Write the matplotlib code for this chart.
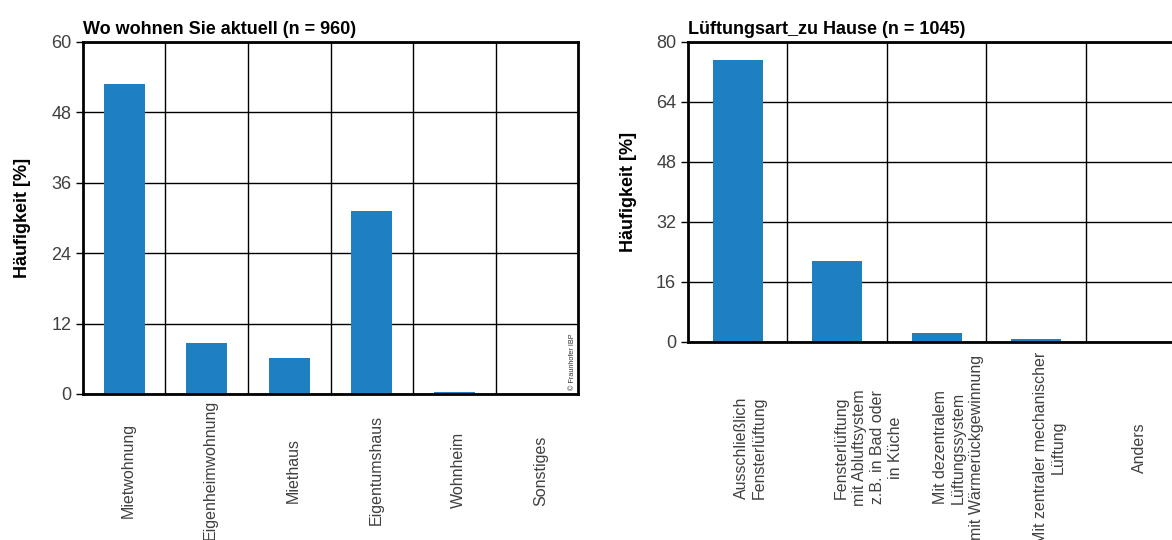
import matplotlib.pyplot as plt
import matplotlib.transforms as mtransforms
import numpy as np

plt.rcParams['font.family'] = ['Liberation Sans', 'DejaVu Sans']

# left chart: place of residence
wohn_labels = ['Mietwohnung', 'Eigenheimwohnung', 'Miethaus', 'Eigentumshaus', 'Wohnheim', 'Sonstiges']
wohn_values = [52.8, 8.7, 6.1, 31.2, 0.3, 0.0]
wohn_ticks = [0, 12, 24, 36, 48, 60]

# right chart: ventilation type at home
lueft_labels = ['Ausschließlich\nFensterlüftung',
                'Fensterlüftung\nmit Abluftsystem\nz.B. in Bad oder\nin Küche',
                'Mit dezentralem\nLüftungssystem\nmit Wärmerückgewinnung',
                'Mit zentraler mechanischer\nLüftung',
                'Anders']
lueft_values = [75.1, 21.5, 2.3, 0.7, 0.0]
lueft_ticks = [0, 16, 32, 48, 64, 80]

BAR = '#1f80c1'

fig = plt.figure(figsize=(11.72, 5.4), dpi=100)
ax1 = fig.add_axes([0.0708, 0.2704, 0.4224, 0.652])
ax2 = fig.add_axes([0.587, 0.3667, 0.4245, 0.5556])


def style_axes(ax, labels, values, ticks, title, pad):
    x = np.arange(len(labels))
    ax.set_axisbelow(True)
    ax.bar(x, values, width=0.5, color=BAR, zorder=2)
    ax.set_xlim(-0.5, len(labels) - 0.5)
    ax.set_ylim(ticks[0], ticks[-1])
    ax.set_yticks(ticks)
    ax.set_xticks(x)
    ax.set_xticklabels(labels, rotation=90, ha='center', va='center',
                       multialignment='center', fontsize=11.5, color='#404040',
                       linespacing=1.25)
    ax.tick_params(axis='x', length=0, pad=pad)
    ax.tick_params(axis='y', length=5, width=1, labelsize=13, labelcolor='#404040', color='black')
    # multi-line labels: first line sits on the category, the rest go right
    for lab, txt in zip(ax.get_xticklabels(), labels):
        n = txt.count('\n')
        shift = mtransforms.ScaledTranslation((n * 9 + 4) / 100, 0, fig.dpi_scale_trans)
        lab.set_transform(lab.get_transform() + shift)
    # vertical separators between categories
    for b in np.arange(len(labels) - 1) + 0.5:
        ax.axvline(b, color='black', linewidth=1, zorder=1)
    ax.yaxis.grid(True, color='black', linewidth=1)
    for s in ax.spines.values():
        s.set_linewidth(2)
        s.set_color('black')
    ax.set_ylabel('Häufigkeit [%]', fontsize=13, fontweight='bold', labelpad=14)
    ax.set_title(title, loc='left', fontsize=13, fontweight='bold', pad=6)


style_axes(ax1, wohn_labels, wohn_values, wohn_ticks, 'Wo wohnen Sie aktuell (n = 960)', 55)
style_axes(ax2, lueft_labels, lueft_values, lueft_ticks, 'Lüftungsart_zu Hause (n = 1045)', 76)

ax1.text(0.995, 0.01, '© Fraunhofer IBP', transform=ax1.transAxes, rotation=90,
         ha='right', va='bottom', fontsize=5.2, color='#333333')

fig.savefig('out.png', dpi=100)
